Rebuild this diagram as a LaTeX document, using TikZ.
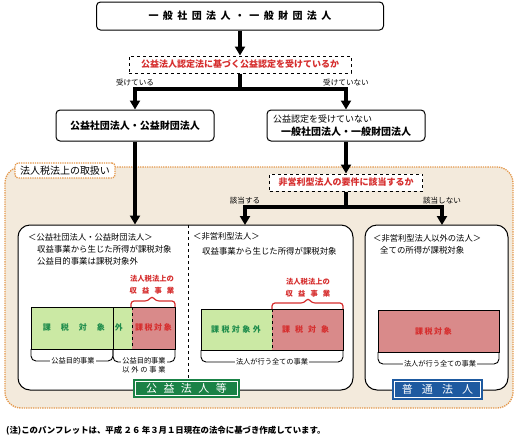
\documentclass[tikz,border=0pt]{standalone}
\usepackage{fontspec}
\setmainfont{Noto Sans CJK JP}
\usetikzlibrary{arrows,arrows.meta,positioning,calc}
\definecolor{beige}{RGB}{243,234,220}
\definecolor{dotorange}{RGB}{228,152,76}
\definecolor{labgreen}{RGB}{26,130,70}
\definecolor{labblue}{RGB}{30,90,160}
\definecolor{bargreen}{RGB}{203,233,164}
\definecolor{barred}{RGB}{217,138,138}
\definecolor{txtgreen}{RGB}{30,140,75}
\definecolor{txtred}{RGB}{214,46,46}
\newcommand{\tracked}[2]{{\addfontfeatures{LetterSpace=#1}#2}\hspace{-\dimexpr 1em*#1/100\relax}}

\begin{document}
\begin{tikzpicture}[x=1pt,y=-1pt,>={Triangle[length=9pt,width=10pt]},
    box/.style={draw,line width=1pt,rounded corners=4pt,fill=white,inner sep=0pt},
    ask/.style={draw,dashed,line width=1pt,fill=white,inner sep=0pt,text=txtred,font=\bfseries\fontsize{9}{11}\selectfont},
    panel/.style={draw,line width=1pt,rounded corners=12pt,fill=white},
    flow/.style={line width=3.2pt},
    lbl/.style={inner sep=0pt,font=\fontsize{7.6}{9}\selectfont},
    txt/.style={inner sep=0pt,anchor=west,font=\fontsize{8.4}{10}\selectfont},
    head/.style={inner sep=0pt,anchor=west,font=\fontsize{8.3}{10}\selectfont},
    small/.style={inner sep=0pt,inner xsep=1pt,fill=white,font=\fontsize{7.2}{9}\selectfont},
    redhead/.style={inner sep=0pt,text=txtred,font=\bfseries\fontsize{7.3}{9}\selectfont},
    bartxt/.style={inner sep=0pt,anchor=west,font=\bfseries\fontsize{8}{10}\selectfont},
    rbrace/.style={draw=txtred,line width=1.2pt,rounded corners=3pt},
    kbrace/.style={draw,line width=0.9pt,rounded corners=5pt},
    dots/.style={draw=dotorange,densely dotted,line width=1.3pt},
    tag/.style={fill=#1,draw=white,line width=0.7pt,preaction={draw=#1,line width=5pt},text=white,inner sep=0pt,font=\fontsize{11}{13}\selectfont}]
    \useasboundingbox (0,0) rectangle (520,440);
    \draw [dots,fill=beige,rounded corners=16pt] (5,167) rectangle (513,408);
    \node [dots,fill=white,rounded corners=3pt,minimum width=100pt,minimum height=15pt,inner sep=0pt,font=\fontsize{10}{12}\selectfont] (tab) at (65,170.5) {法人税法上の取扱い};

    \node [box,minimum width=287pt,minimum height=28pt,font=\bfseries\fontsize{10}{12}\selectfont] (top) at (240,16) {\tracked{44}{一般社団法人・一般財団法人}};
    \node [ask,minimum width=222pt,minimum height=17pt,below=25pt of top] (q1) {公益法人認定法に基づく公益認定を受けているか};
    \coordinate (j1) at (240,89);
    \node [box,minimum width=158pt,minimum height=31pt,font=\bfseries\fontsize{10}{12}\selectfont] (kk) at (135,125.5) {公益社団法人・公益財団法人};
    \node [box,minimum width=158pt,minimum height=31pt] (ip) at (346,125.5) {};
    \node [txt,font=\fontsize{9}{11}\selectfont] (ip1) at (273,119) {公益認定を受けていない};
    \node [inner sep=0pt,font=\bfseries\fontsize{10}{12}\selectfont] (ip2) at (346,132) {一般社団法人・一般財団法人};
    \node [ask,minimum width=153pt,minimum height=17pt,below=32pt of ip] (q2) {非営利型法人の要件に該当するか};
    \coordinate (j2) at (346,207);
    \coordinate (t1) at (245,225);
    \coordinate (t2) at (442,225);

    \node [panel,minimum width=335pt,minimum height=165pt] (kp) at (185.5,307.5) {};
    \node [panel,minimum width=143pt,minimum height=165pt] (fp) at (436.5,307.5) {};
    \draw [dashed,line width=1pt] (188,225) -- (188,390);

    \draw [flow,->] (top) -- (q1);
    \draw [flow] (q1) -- (j1);
    \draw [flow,->] (j1) -| (kk);
    \draw [flow,->] (j1) -| (ip);
    \node [lbl,above=3pt] at (kk.north |- j1) {受けている};
    \node [lbl,above=3pt] at (ip.north |- j1) {受けていない};
    \draw [flow,->] (kk) -- (kk |- kp.north);
    \draw [flow,->] (ip) -- (q2);
    \draw [flow] (q2) -- (j2);
    \draw [flow,->] (j2) -| (t1);
    \draw [flow,->] (j2) -| (t2);
    \node [lbl,above=3pt] at (t1 |- j2) {該当する};
    \node [lbl,above=3pt] at (t2 |- j2) {該当しない};

    \node [head] (h1) at (28,237) {＜公益社団法人・公益財団法人＞};
    \node [txt] (l1a) at (37,249) {収益事業から生じた所得が課税対象};
    \node [txt] (l1b) at (37,261) {公益目的事業は課税対象外};
    \node [redhead] (r1) at (152,279) {法人税法上の};
    \node [redhead] (r1b) at (152,291) {\tracked{70}{収益事業}};
    \fill [bargreen] (31,307) rectangle (132,349);
    \fill [barred] (132,307) rectangle (175,349);
    \draw [line width=0.8pt] (31,307) rectangle (175,349) (113,307) -- (113,349);
    \draw [dashed,line width=0.8pt] (132,307) -- (132,349);
    \node [bartxt,text=txtgreen] at (42.7,327) {\tracked{125}{課税対象外}};
    \node [bartxt,text=txtred] at (135,327) {\tracked{19}{課税対象}};
    \draw [rbrace] (131,307) |- (148,301) -- (152,296) -- (156,301) -| (175,307);
    \draw [kbrace] (31,349) |- (73,361) -| (113,349);
    \draw [kbrace] (113,349) |- (144,362) -| (175,349);
    \node [small] at (73,361) {公益目的事業};
    \node [small,align=center] at (144,365) {公益目的事業\\\tracked{25}{以外の事業}};

    \node [head] (h2) at (193,236) {＜非営利型法人＞};
    \node [txt] (l2) at (202,251) {収益事業から生じた所得が課税対象};
    \node [redhead] (r2) at (308,282) {法人税法上の};
    \node [redhead] (r2b) at (308,294) {\tracked{70}{収益事業}};
    \fill [bargreen] (201,309) rectangle (272,350);
    \fill [barred] (272,309) rectangle (343,350);
    \draw [line width=0.8pt] (201,309) rectangle (343,350);
    \draw [dashed,line width=0.8pt] (272,309) -- (272,350);
    \node [bartxt,text=txtgreen] at (211,329) {\tracked{30}{課税対象外}};
    \node [bartxt,text=txtred] at (282,329) {\tracked{62}{課税対象}};
    \draw [rbrace] (272,309) |- (304,303) -- (308,298) -- (312,303) -| (343,309);
    \draw [kbrace] (201,350) |- (272,362) -| (343,350);
    \node [small] at (272,362) {法人が行う全ての事業};

    \node [head] (h3) at (373,238) {＜非営利型法人以外の法人＞};
    \node [txt] (l3) at (380,250) {全ての所得が課税対象};
    \fill [barred] (378,310) rectangle (499,352);
    \draw [line width=0.8pt] (378,310) rectangle (499,352);
    \node [bartxt,text=txtred] at (415,331) {\tracked{19}{課税対象}};
    \draw [kbrace] (378,352) |- (440,364) -| (499,352);
    \node [small] at (440,364) {法人が行う全ての事業};

    \node [tag=labgreen,minimum width=102pt,minimum height=14pt] (kt) at (186.5,388.5) {\tracked{58}{公益法人等}};
    \node [tag=labblue,minimum width=86pt,minimum height=16pt] (ft) at (437.5,389.5) {\tracked{82}{普通法人}};

    \node [txt,font=\bfseries\fontsize{8.4}{10}\selectfont] (note) at (6,431) {(注)このパンフレットは、平成\,２６\,年３月１日現在の法令に基づき作成しています。};
\end{tikzpicture}
\end{document}
